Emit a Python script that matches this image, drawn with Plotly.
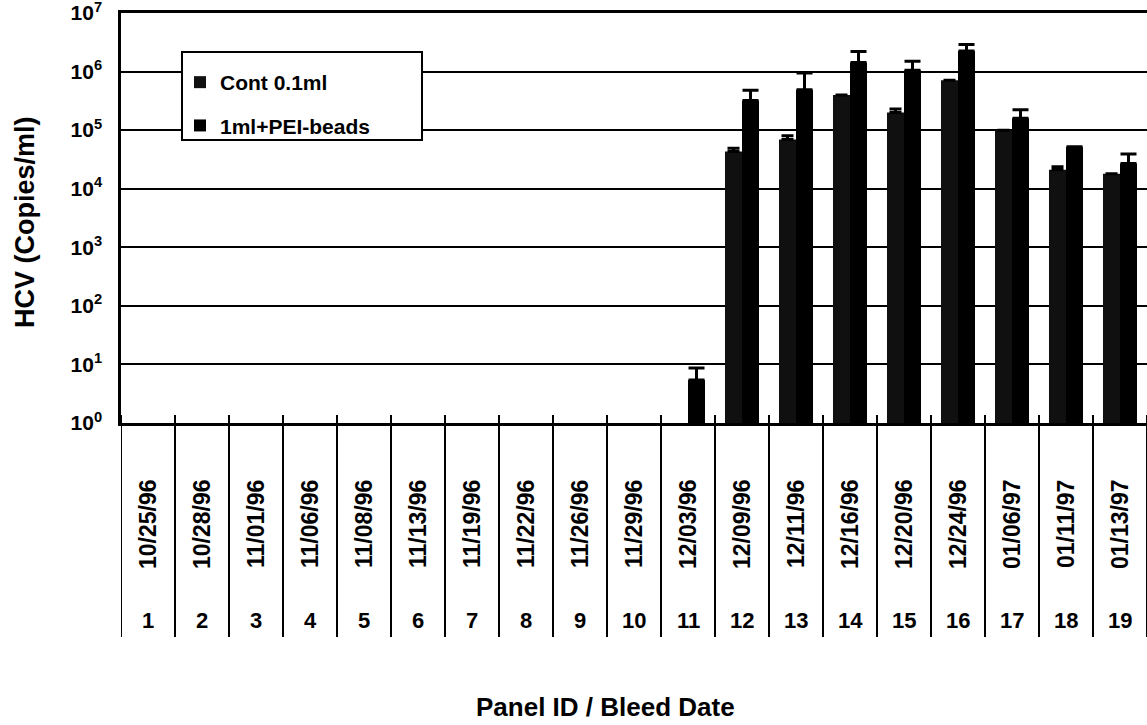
import plotly.graph_objects as go

# Panel members and bleed dates
panel_ids = list(range(1, 20))
bleed_dates = [
    "10/25/96", "10/28/96", "11/01/96", "11/06/96", "11/08/96", "11/13/96",
    "11/19/96", "11/22/96", "11/26/96", "11/29/96", "12/03/96", "12/09/96",
    "12/11/96", "12/16/96", "12/20/96", "12/24/96", "01/06/97", "01/11/97",
    "01/13/97",
]

# HCV load (copies/ml); None = not detected
cont_01ml = [None] * 11 + [4.3e4, 6.9e4, 4.0e5, 2.0e5, 7.1e5, 1.0e5, 2.1e4, 1.8e4]
cont_01ml_err = [None] * 11 + [6e3, 1.1e4, None, 3e4, None, None, 2.6e3, None]

pei_beads = [None] * 10 + [5.4, 3.2e5, 4.9e5, 1.43e6, 1.05e6, 2.25e6, 1.6e5, 5.2e4, 2.7e4]
pei_beads_err = [None] * 10 + [3.3, 1.6e5, 4.6e5, 7.7e5, 4.5e5, 6.5e5, 6.4e4, None, 1.2e4]

decades = list(range(0, 8))

FONT = "Liberation Sans, Arial, sans-serif"
PLOT_W = 1026  # plot-area width in px
PLOT_H = 410   # plot-area height in px


def py(px_from_bottom):
    """Paper y coordinate for a point px pixels above (+) or below (-) the x axis."""
    return px_from_bottom / PLOT_H


def bold(size):
    return dict(family=FONT, size=size, color="black", weight="bold")


fig = go.Figure()

fig.add_trace(go.Bar(
    x=panel_ids, y=cont_01ml, name="Cont 0.1ml",
    marker=dict(color="#101010", line=dict(width=0)),
    error_y=dict(type="data", array=cont_01ml_err, symmetric=False,
                 arrayminus=[0] * len(panel_ids), color="black",
                 thickness=3, width=6),
    legendgroup="a",
))
fig.add_trace(go.Bar(
    x=panel_ids, y=pei_beads, name="1ml+PEI-beads",
    marker=dict(color="black", line=dict(width=0)),
    error_y=dict(type="data", array=pei_beads_err, symmetric=False,
                 arrayminus=[0] * len(panel_ids), color="black",
                 thickness=3, width=8),
    legendgroup="b",
))

# Category dividers running from just above the axis down through the label rows
n = len(panel_ids)
for i in range(n + 1):
    fig.add_shape(type="line", xref="x", yref="paper",
                  x0=i + 0.5, x1=i + 0.5, y0=py(8), y1=py(-214),
                  line=dict(color="black", width=2))

# Framed box behind the legend entries
fig.add_shape(type="rect", xref="paper", yref="paper", layer="above",
              x0=61 / PLOT_W, x1=301 / PLOT_W, y0=py(283), y1=py(371),
              fillcolor="white", line=dict(color="black", width=2))

# Bleed dates (rotated) and panel numbers under each category
for pid, date in zip(panel_ids, bleed_dates):
    fig.add_annotation(x=pid, y=py(-101), xref="x", yref="paper",
                       xanchor="center", yanchor="middle",
                       text=date, textangle=-90, showarrow=False, font=bold(23))
    fig.add_annotation(x=pid, y=py(-197), xref="x", yref="paper",
                       xanchor="center", yanchor="middle",
                       text=str(pid), showarrow=False, font=bold(22))

fig.add_annotation(x=484 / PLOT_W, y=py(-284), xref="paper", yref="paper",
                   xanchor="center", yanchor="middle",
                   text="Panel ID / Bleed Date", showarrow=False, font=bold(26))
fig.add_annotation(x=-96 / PLOT_W, y=py(201), xref="paper", yref="paper",
                   xanchor="center", yanchor="middle",
                   text="HCV (Copies/ml)", textangle=-90, showarrow=False,
                   font=bold(27))

fig.update_layout(
    width=1147, height=725,
    margin=dict(l=121, r=0, t=13, b=302),
    paper_bgcolor="white", plot_bgcolor="white",
    barmode="group", bargap=0.37, bargroupgap=0,
    font=dict(family=FONT, color="black"),
    showlegend=True,
    legend=dict(x=59 / PLOT_W, y=py(361), xanchor="left", yanchor="top",
                bgcolor="rgba(0,0,0,0)", borderwidth=0,
                traceorder="grouped", tracegroupgap=13,
                font=bold(21)),
    xaxis=dict(range=[0.5, n + 0.5], showticklabels=False, ticks="",
               showgrid=False, zeroline=False,
               showline=True, linecolor="black", linewidth=2.5, mirror=True),
    yaxis=dict(type="log", range=[0, 7],
               tickvals=[10 ** d for d in decades],
               ticktext=[f"10<sup>{d}</sup>" for d in decades],
               tickfont=bold(21), ticklabeloverflow="allow",
               ticks="outside", ticklen=0, ticklabelstandoff=12,
               showgrid=True, gridcolor="black", gridwidth=2,
               zeroline=False, showline=True, linecolor="black", linewidth=2.5),
)

fig.write_html("out.html")
